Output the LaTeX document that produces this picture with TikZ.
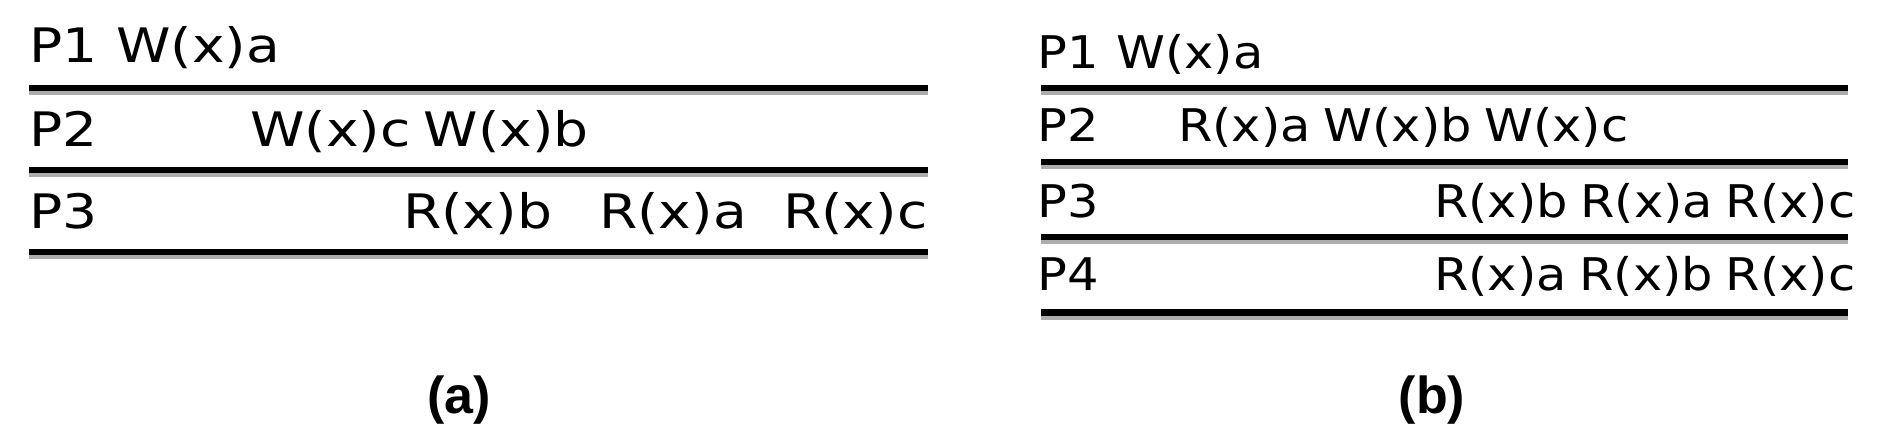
\documentclass[tikz,border=0pt]{standalone}
\usepackage{fontspec}
\newfontfamily\lfont[FakeStretch=1.16,WordSpace=0.75]{DejaVu Sans}
\newfontfamily\rfont[FakeStretch=1.10,WordSpace=0.8]{DejaVu Sans}
\newfontfamily\capfont{Liberation Sans}
\begin{document}
\begin{tikzpicture}[x=1pt,y=-1pt,
  ltxt/.style={anchor=base west,inner sep=0pt,font=\lfont\fontsize{47.5}{50}\selectfont},
  rtxt/.style={anchor=base west,inner sep=0pt,font=\rfont\fontsize{45}{48}\selectfont},
  captxt/.style={anchor=base,inner sep=0pt,font=\capfont\bfseries\fontsize{52}{54}\selectfont},
  rule/.style={line width=6pt,black},
  ruleshade/.style={line width=4pt,black!32}]
\useasboundingbox (0,0) rectangle (1894,444);
% ---- (a) ----
\foreach \y in {88,170,252}{
  \draw[ruleshade] (29,\y+5) -- (928,\y+5);
  \draw[rule] (29,\y) -- (928,\y);
}
\node[ltxt] (a1) at (29,63) {P1};
\node[ltxt] (a1w) at (116,63) {W(x)a};
\node[ltxt] (a2) at (29,146) {P2};
\node[ltxt] (a2w) at (250,146) {W(x)c W(x)b};
\node[ltxt] (a3) at (29,228) {P3};
\node[ltxt] (a3b) at (403,228) {R(x)b};
\node[ltxt] (a3a) at (599,228) {R(x)a};
\node[ltxt] (a3c) at (783,228) {R(x)c};
\node[captxt] (capa) at (459,413) {(a)};
% ---- (b) ----
\foreach \y in {88,162,237}{
  \draw[ruleshade] (1041,\y+5) -- (1848,\y+5);
  \draw[rule] (1041,\y) -- (1848,\y);
}
\draw[ruleshade] (1041,317.5) -- (1848,317.5);
\draw[line width=7pt] (1041,312) -- (1848,312);
\node[rtxt] (b1) at (1037,68) {P1};
\node[rtxt] (b1w) at (1116,68) {W(x)a};
\node[rtxt] (b2) at (1037,141) {P2};
\node[rtxt] (b2w) at (1178,141) {R(x)a W(x)b W(x)c};
\node[rtxt] (b3) at (1037,217) {P3};
\node[rtxt] (b3w) at (1434,217) {R(x)b R(x)a R(x)c};
\node[rtxt] (b4) at (1037,290) {P4};
\node[rtxt] (b4w) at (1434,290) {R(x)a R(x)b R(x)c};
\node[captxt] (capb) at (1432,413) {(b)};
\end{tikzpicture}
\end{document}
